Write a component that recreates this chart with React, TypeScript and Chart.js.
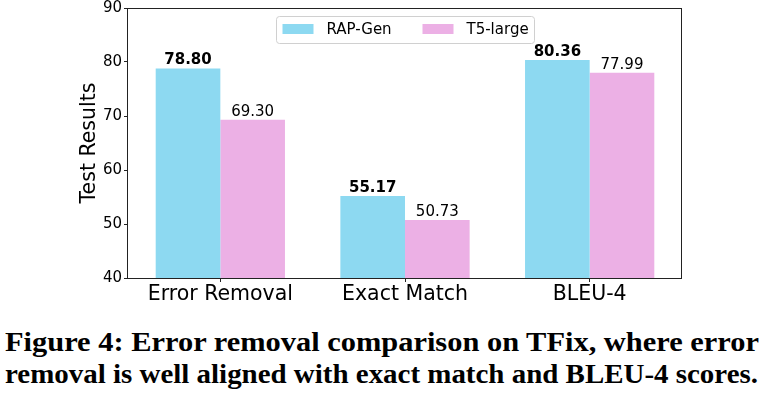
import React, { useEffect, useLayoutEffect, useRef } from "react";
import { Chart, registerables } from "chart.js";

Chart.register(...registerables);

const categories = ["Error Removal", "Exact Match", "BLEU-4"];
const rapGen = [78.8, 55.17, 80.36];
const t5Large = [69.3, 50.73, 77.99];
const seriesNames = ["RAP-Gen", "T5-large"];
const yMin = 40;
const yMax = 90;
const yStep = 10;
const captionLines = [
  "Figure 4: Error removal comparison on TFix, where error",
  "removal is well aligned with exact match and BLEU-4 scores.",
];

const BLUE = "#8DD9F1";
const PINK = "#ECB0E5";
const SANS = "'DejaVu Sans', sans-serif";

const frameAndLabels = {
  id: "frameAndLabels",
  afterDatasetsDraw(chart: any) {
    const ctx = chart.ctx;
    const area = chart.chartArea;
    ctx.save();
    // value labels
    chart.data.datasets.forEach((ds: any, di: number) => {
      const meta = chart.getDatasetMeta(di);
      meta.data.forEach((el: any, i: number) => {
        const v = ds.data[i];
        ctx.font = (di === 0 ? "bold " : "") + "15px " + SANS;
        ctx.fillStyle = "#000";
        ctx.textAlign = "center";
        ctx.textBaseline = "alphabetic";
        ctx.fillText(v.toFixed(2), el.x, el.y - 4);
      });
    });
    // frame
    ctx.strokeStyle = "#222";
    ctx.lineWidth = 1;
    ctx.strokeRect(
      Math.round(area.left) - 0.5,
      Math.round(area.top) + 0.5,
      Math.round(area.right - area.left),
      Math.round(area.bottom - area.top)
    );
    // legend
    const cx = (area.left + area.right) / 2;
    const bx = cx - 128.5;
    const by = area.top + 8.5;
    const bw = 258;
    const bh = 27;
    const r = 3;
    ctx.beginPath();
    ctx.moveTo(bx + r, by);
    ctx.lineTo(bx + bw - r, by);
    ctx.arcTo(bx + bw, by, bx + bw, by + r, r);
    ctx.lineTo(bx + bw, by + bh - r);
    ctx.arcTo(bx + bw, by + bh, bx + bw - r, by + bh, r);
    ctx.lineTo(bx + r, by + bh);
    ctx.arcTo(bx, by + bh, bx, by + bh - r, r);
    ctx.lineTo(bx, by + r);
    ctx.arcTo(bx, by, bx + r, by, r);
    ctx.closePath();
    ctx.fillStyle = "rgba(255,255,255,0.85)";
    ctx.fill();
    ctx.strokeStyle = "#d0d0d0";
    ctx.stroke();
    const colors = [BLUE, PINK];
    const sw = [bx + 6, bx + 146];
    seriesNames.forEach((name, k) => {
      ctx.fillStyle = colors[k];
      ctx.fillRect(sw[k], by + 7.5, 31, 10);
      ctx.fillStyle = "#000";
      ctx.font = "15px " + SANS;
      ctx.textAlign = "left";
      ctx.textBaseline = "alphabetic";
      ctx.fillText(name, sw[k] + 44, by + 17.5);
    });
    ctx.restore();
  },
};

function ChartBox() {
  const ref = useRef<HTMLCanvasElement | null>(null);
  useEffect(() => {
    if (!ref.current) return;
    const chart = new Chart(ref.current, {
      type: "bar",
      data: {
        labels: categories,
        datasets: [
          {
            label: seriesNames[0],
            data: rapGen,
            backgroundColor: BLUE,
            borderWidth: 0,
            categoryPercentage: 0.7,
            barPercentage: 1.0,
          },
          {
            label: seriesNames[1],
            data: t5Large,
            backgroundColor: PINK,
            borderWidth: 0,
            categoryPercentage: 0.7,
            barPercentage: 1.0,
          },
        ],
      },
      options: {
        animation: false,
        responsive: false,
        devicePixelRatio: 1,
        layout: { padding: { left: 0, right: 87, top: 8, bottom: 0 } },
        plugins: {
          legend: { display: false },
          tooltip: { enabled: false },
        },
        scales: {
          x: {
            offset: true,
            border: { display: false },
            grid: {
              offset: false,
              drawOnChartArea: false,
              drawTicks: true,
              tickLength: 4,
              color: "#222",
            },
            ticks: {
              color: "#000",
              font: { family: SANS, size: 20.5 },
              padding: 0,
              maxRotation: 0,
            },
            afterFit: (s: any) => {
              s.height = 32;
              s.paddingLeft = 0;
              s.paddingRight = 0;
            },
          },
          y: {
            min: yMin,
            max: yMax,
            border: { display: false },
            grid: {
              drawOnChartArea: false,
              drawTicks: true,
              tickLength: 4,
              color: "#222",
            },
            ticks: {
              stepSize: yStep,
              color: "#000",
              font: { family: SANS, size: 15 },
              padding: 2,
            },
            title: {
              display: true,
              text: "Test Results",
              color: "#000",
              font: { family: SANS, size: 20.5 },
              padding: { top: 77, bottom: 0 },
            },
            afterFit: (s: any) => {
              s.width = 128;
              s.paddingTop = 0;
              s.paddingBottom = 0;
            },
          },
        },
      },
      plugins: [frameAndLabels],
    });
    return () => chart.destroy();
  }, []);
  return (
    <canvas
      ref={ref}
      width={769}
      height={310}
      style={{ position: "absolute", left: 0, top: 0, width: 769, height: 310 }}
    />
  );
}

function Caption() {
  const refs = [useRef<HTMLSpanElement | null>(null), useRef<HTMLSpanElement | null>(null)];
  const targets = [754, 753];
  useLayoutEffect(() => {
    refs.forEach((r, i) => {
      const el = r.current;
      if (!el) return;
      el.style.transform = "none";
      const w = el.getBoundingClientRect().width;
      if (w > 0) el.style.transform = `scaleX(${targets[i] / w})`;
    });
  }, []);
  const tops = [329, 360.7];
  return (
    <>
      {captionLines.map((line, i) => (
        <span
          key={i}
          ref={refs[i]}
          style={{
            position: "absolute",
            left: 5,
            top: tops[i],
            fontFamily: "'Liberation Serif', serif",
            fontWeight: "bold",
            fontSize: 27,
            lineHeight: "27px",
            whiteSpace: "nowrap",
            transformOrigin: "left top",
            color: "#000",
          }}
        >
          {line}
        </span>
      ))}
    </>
  );
}

export default function App() {
  return (
    <div
      style={{
        position: "absolute",
        left: 0,
        top: 0,
        width: 769,
        height: 395,
        background: "#fff",
        overflow: "hidden",
      }}
    >
      <ChartBox />
      <Caption />
    </div>
  );
}
